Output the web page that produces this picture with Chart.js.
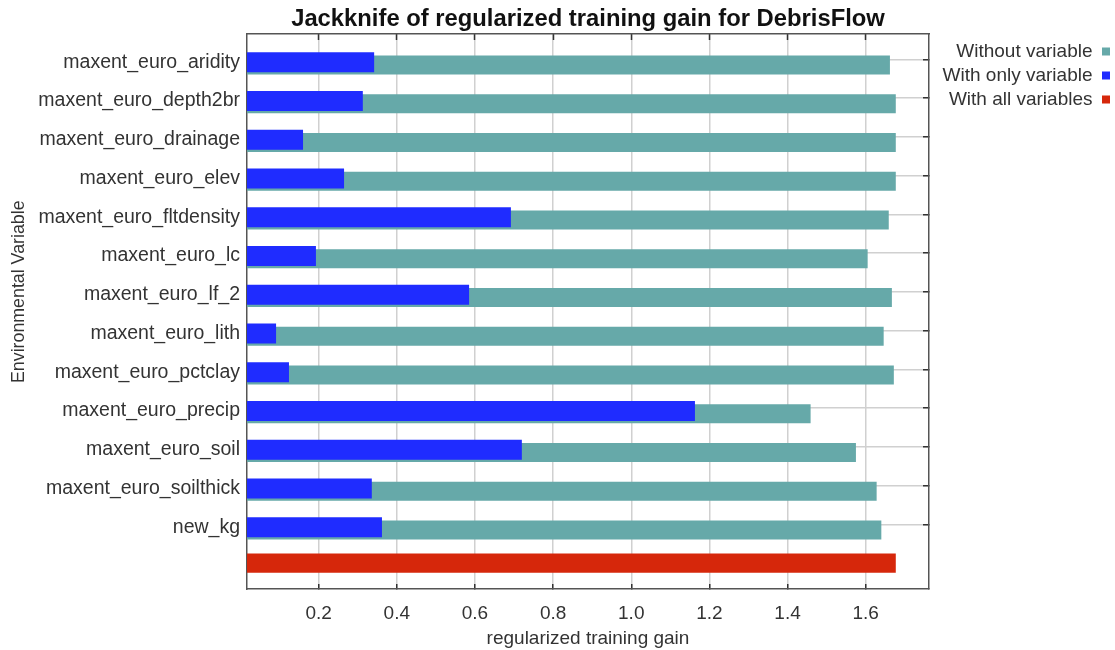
<!DOCTYPE html>
<html>
<head>
<meta charset="utf-8">
<title>Jackknife of regularized training gain for DebrisFlow</title>
<script src="https://cdn.jsdelivr.net/npm/chart.js@4/dist/chart.umd.min.js"></script>
<style>
  html, body { margin: 0; padding: 0; background: #ffffff; }
  #wrap { width: 1115px; height: 650px; position: relative; }
</style>
</head>
<body>
<div id="wrap"><canvas id="chart"></canvas></div>
<script>
// Environmental variables, top to bottom
const variables = [
  'maxent_euro_aridity',
  'maxent_euro_depth2br',
  'maxent_euro_drainage',
  'maxent_euro_elev',
  'maxent_euro_fltdensity',
  'maxent_euro_lc',
  'maxent_euro_lf_2',
  'maxent_euro_lith',
  'maxent_euro_pctclay',
  'maxent_euro_precip',
  'maxent_euro_soil',
  'maxent_euro_soilthick',
  'new_kg'
];

// Regularized training gain of the model built without each variable
const withoutVariable = [1.662, 1.677, 1.677, 1.677, 1.659, 1.605, 1.667, 1.646, 1.672, 1.459, 1.575, 1.628, 1.640];

// Regularized training gain of the model built with only each variable
const withOnlyVariable = [0.342, 0.313, 0.160, 0.265, 0.692, 0.193, 0.585, 0.091, 0.124, 1.163, 0.720, 0.336, 0.362];

// Regularized training gain of the full model
const withAllVariables = 1.677;

// Gain axis
const gainTicks = [0.2, 0.4, 0.6, 0.8, 1.0, 1.2, 1.4, 1.6];
const gainMin = 0.0166;
const gainMax = 1.762;

const seriesNames = ['Without variable', 'With only variable', 'With all variables'];
const seriesColors = ['#66a9a9', '#1f2cff', '#d6270b'];

// One extra, unlabelled row at the bottom holds the full-model bar
const categories = variables.concat(['']);
const lastRow = variables.length;
const blank = variables.map(() => null);

const FONT = "'Liberation Sans', Arial, Helvetica, sans-serif";
const TEXT = '#333333';
const GRID = '#d0d0d0';
const FRAME = '#555555';
const TICK = '#333333';
const HIDDEN = 'rgba(0,0,0,0)';

Chart.defaults.font.family = FONT;
Chart.defaults.font.size = 19;
Chart.defaults.color = TEXT;

// Row layout: margin above the first row and below the last row, in row units
function spreadRows(scale, lead, trail) {
  scale._startValue = -lead;
  scale._valueRange = (categories.length - 1) + lead + trail;
}
function gainTickList(scale) {
  scale.ticks = gainTicks.map(v => ({ value: v }));
}

// Three slots per row (all / only / without) packed closely so the bars overlap
const barCategory = 0.217;

new Chart(document.getElementById('chart'), {
  type: 'bar',
  data: {
    labels: categories,
    datasets: [
      {
        label: seriesNames[0],
        data: withoutVariable.concat([null]),
        backgroundColor: seriesColors[0],
        borderWidth: 0,
        stack: 'without',
        order: 1,
        categoryPercentage: barCategory,
        barPercentage: 6.8
      },
      {
        label: seriesNames[1],
        data: withOnlyVariable.concat([null]),
        backgroundColor: seriesColors[1],
        borderWidth: 0,
        stack: 'single',
        order: 0,
        categoryPercentage: barCategory,
        barPercentage: 7.15
      },
      {
        label: seriesNames[2],
        data: blank.concat([withAllVariables]),
        backgroundColor: seriesColors[2],
        borderWidth: 0,
        stack: 'all',
        order: -1,
        categoryPercentage: barCategory,
        barPercentage: 6.8
      }
    ]
  },
  options: {
    indexAxis: 'y',
    responsive: true,
    maintainAspectRatio: false,
    animation: false,
    events: [],
    layout: { padding: 0 },
    plugins: {
      tooltip: { enabled: false },
      title: {
        display: true,
        text: 'Jackknife of regularized training gain for DebrisFlow',
        color: '#111111',
        fullSize: false,
        font: { size: 23.8, weight: 'bold', family: FONT, lineHeight: 1 },
        padding: { top: 8, bottom: 2.2 }
      },
      legend: {
        display: true,
        position: 'right',
        align: 'start',
        fullSize: false,
        rtl: true,
        maxWidth: 178,
        title: { display: true, text: '', font: { size: 1, lineHeight: 1 }, padding: { top: 2, bottom: 0 } },
        labels: {
          boxWidth: 8,
          boxHeight: 8,
          padding: 5,
          color: TEXT,
          font: { size: 19, family: FONT },
          sort: (a, b) => a.datasetIndex - b.datasetIndex
        }
      }
    },
    scales: {
      x: {
        type: 'linear',
        position: 'bottom',
        min: gainMin,
        max: gainMax,
        stacked: false,
        afterBuildTicks: gainTickList,
        afterFit: s => { s.height = 61; },
        grid: { color: GRID, lineWidth: 1.5, tickLength: -5, tickColor: TICK, tickWidth: 1.5 },
        border: { color: FRAME, width: 1.5 },
        ticks: { padding: 18, color: TEXT, font: { size: 19 }, callback: v => Number(v).toFixed(1) },
        title: {
          display: true,
          text: 'regularized training gain',
          color: TEXT,
          font: { size: 19 },
          padding: { top: 0, bottom: 0 }
        }
      },
      x2: {
        type: 'linear',
        position: 'top',
        min: gainMin,
        max: gainMax,
        afterBuildTicks: gainTickList,
        afterFit: s => { s.height = 0; },
        grid: { drawOnChartArea: false, tickLength: -6, tickColor: TICK, tickWidth: 1.5 },
        border: { color: FRAME, width: 1.5 },
        ticks: { display: false }
      },
      y: {
        type: 'category',
        position: 'left',
        afterBuildTicks: s => spreadRows(s, 0.728, 0.595),
        afterFit: s => { s.width = 247; },
        grid: { display: false, drawTicks: false },
        border: { color: FRAME, width: 1.5 },
        ticks: { padding: 7, color: TEXT, font: { size: 19.5 }, autoSkip: false },
        title: {
          display: true,
          text: '        Environmental Variable',
          color: TEXT,
          font: { size: 17.8 },
          padding: { top: 8.5, bottom: 0 }
        }
      },
      y2: {
        type: 'category',
        position: 'right',
        afterBuildTicks: s => spreadRows(s, 0.653, 0.67),
        afterFit: s => { s.width = 8; },
        grid: {
          offset: false,
          drawOnChartArea: true,
          color: c => (c.index === lastRow ? HIDDEN : GRID),
          lineWidth: 1.5,
          tickLength: -6,
          tickColor: c => (c.index === lastRow ? HIDDEN : TICK),
          tickWidth: 1.5
        },
        border: { color: FRAME, width: 1.5 },
        ticks: { display: false, autoSkip: false }
      }
    }
  }
});
</script>
</body>
</html>
